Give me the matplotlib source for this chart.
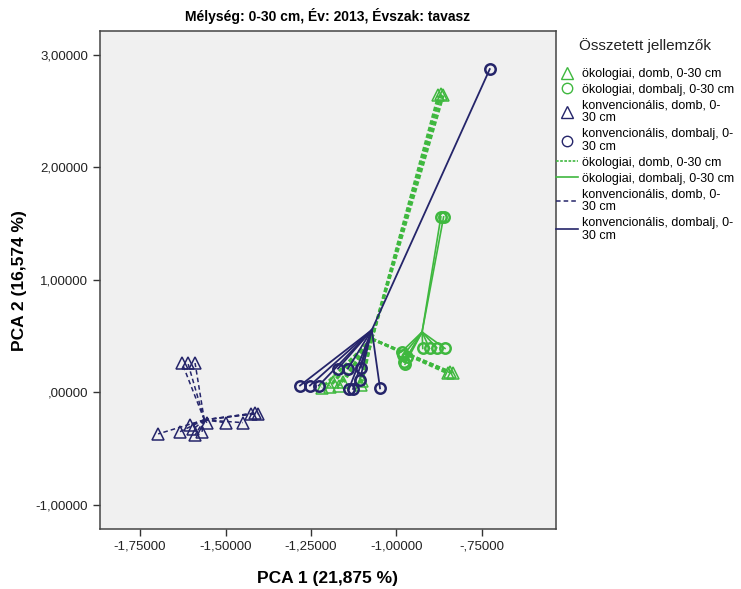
import matplotlib
matplotlib.use("Agg")
import matplotlib.pyplot as plt
from matplotlib.lines import Line2D
from matplotlib.ticker import FixedLocator, FuncFormatter

plt.rcParams['font.family'] = ['Liberation Sans', 'DejaVu Sans']

# ökologiai, domb, 0-30 cm
eko_domb_x = [-0.877, -0.870, -0.863, -0.850, -0.843, -0.836,
              -1.218, -1.195, -1.186, -1.168, -1.155, -1.105, -1.100]
eko_domb_y = [2.64, 2.65, 2.64, 0.17, 0.18, 0.17,
              0.04, 0.05, 0.09, 0.06, 0.09, 0.065, 0.10]
eko_domb_c = (-1.072, 0.475)

# ökologiai, dombalj, 0-30 cm
eko_dombalj_x = [-0.870, -0.862, -0.923, -0.903, -0.882, -0.858,
                 -0.985, -0.980, -0.978, -0.975, -0.970]
eko_dombalj_y = [1.56, 1.56, 0.39, 0.39, 0.395, 0.39,
                 0.36, 0.33, 0.27, 0.25, 0.31]
eko_dombalj_c = (-0.925, 0.536)

# konvencionális, domb, 0-30 cm
konv_domb_x = [-1.627, -1.610, -1.589, -1.425, -1.415, -1.405,
               -1.500, -1.449, -1.554, -1.697, -1.633,
               -1.604, -1.595, -1.589, -1.569]
konv_domb_y = [0.26, 0.26, 0.26, -0.19, -0.185, -0.19,
               -0.27, -0.27, -0.27, -0.37, -0.35,
               -0.29, -0.33, -0.38, -0.355]
konv_domb_c = (-1.562, -0.245)

# konvencionális, dombalj, 0-30 cm
konv_dombalj_x = [-0.727, -1.282, -1.253, -1.227, -1.171, -1.142, -1.104,
                  -1.139, -1.127, -1.107, -1.048]
konv_dombalj_y = [2.874, 0.06, 0.06, 0.06, 0.21, 0.21, 0.22,
                  0.03, 0.03, 0.11, 0.035]
konv_dombalj_c = (-1.072, 0.554)

x_ticks = [-1.75, -1.50, -1.25, -1.00, -0.75]
y_ticks = [-1.0, 0.0, 1.0, 2.0, 3.0]

labels = ["ökologiai, domb, 0-30 cm",
          "ökologiai, dombalj, 0-30 cm",
          "konvencionális, domb, 0-\n30 cm",
          "konvencionális, dombalj, 0-\n30 cm"]

GREEN = "#3fb83f"
NAVY = "#25256a"

groups = [
    (eko_domb_x, eko_domb_y, eko_domb_c, GREEN, '^', (0, (1.6, 0.9)), 2.0),
    (eko_dombalj_x, eko_dombalj_y, eko_dombalj_c, GREEN, 'o', '-', 1.2),
    (konv_domb_x, konv_domb_y, konv_domb_c, NAVY, '^', (0, (3, 2)), 1.1),
    (konv_dombalj_x, konv_dombalj_y, konv_dombalj_c, NAVY, 'o', '-', 1.3),
]

fig = plt.figure(figsize=(7.41, 5.89), dpi=100)
ax = fig.add_axes([0.135, 0.102, 0.615, 0.845])
ax.set_facecolor("#f0f0f0")

# spikes from each group centroid to its points
for xs, ys, c, col, mk, ls, lw in groups:
    for x, y in zip(xs, ys):
        ax.plot([c[0], x], [c[1], y], color=col, linestyle=ls, linewidth=lw,
                zorder=2)

for xs, ys, c, col, mk, ls, lw in groups:
    ms = 8 if mk == '^' else 7.5
    mew = 1.1 if mk == '^' else 1.8
    ax.plot(xs, ys, linestyle='none', marker=mk, markersize=ms,
            markerfacecolor='none', markeredgecolor=col, markeredgewidth=mew,
            zorder=3)

ax.set_xlim(-1.867, -0.534)
ax.set_ylim(-1.215, 3.211)


def fmt(v, pos=None):
    s = f"{v:.5f}".replace('.', ',')
    if s.startswith('0,'):
        s = s[1:]
    elif s.startswith('-0,'):
        s = '-' + s[2:]
    return s


ax.xaxis.set_major_locator(FixedLocator(x_ticks))
ax.yaxis.set_major_locator(FixedLocator(y_ticks))
ax.xaxis.set_major_formatter(FuncFormatter(fmt))
ax.yaxis.set_major_formatter(FuncFormatter(fmt))
ax.tick_params(direction='out', length=5, width=1, colors='#333333',
               labelsize=9.5, labelcolor='#222222')
for sp in ax.spines.values():
    sp.set_color('#444444')
    sp.set_linewidth(1.1)

ax.set_xlabel("PCA 1 (21,875 %)", fontsize=12.5, fontweight='bold', labelpad=13)
ax.set_ylabel("PCA 2 (16,574 %)", fontsize=12.5, fontweight='bold', labelpad=6)
ax.set_title("Mélység: 0-30 cm, Év: 2013, Évszak: tavasz", fontsize=10,
             fontweight='bold', pad=7)

handles = []
for xs, ys, c, col, mk, ls, lw in groups:
    handles.append(Line2D([], [], linestyle='none', marker=mk,
                          markersize=8 if mk == '^' else 7.5,
                          markerfacecolor='none', markeredgecolor=col,
                          markeredgewidth=1.0))
for xs, ys, c, col, mk, ls, lw in groups:
    handles.append(Line2D([], [], color=col, linestyle=ls,
                          linewidth=min(lw, 1.2)))

leg = fig.legend(handles, labels + labels, loc='upper left',
                 bbox_to_anchor=(0.750, 0.936), frameon=False,
                 fontsize=9, title="Összetett jellemzők", title_fontsize=11,
                 handlelength=1.75, handletextpad=0.35, labelspacing=0.3,
                 borderaxespad=0, borderpad=0)
leg._legend_box.align = "center"
leg._legend_box.sep = 11
for t in leg.get_texts():
    t.set_linespacing(1.1)
leg.get_title().set_color('#222222')

fig.savefig("out.png", dpi=100, facecolor='white')
